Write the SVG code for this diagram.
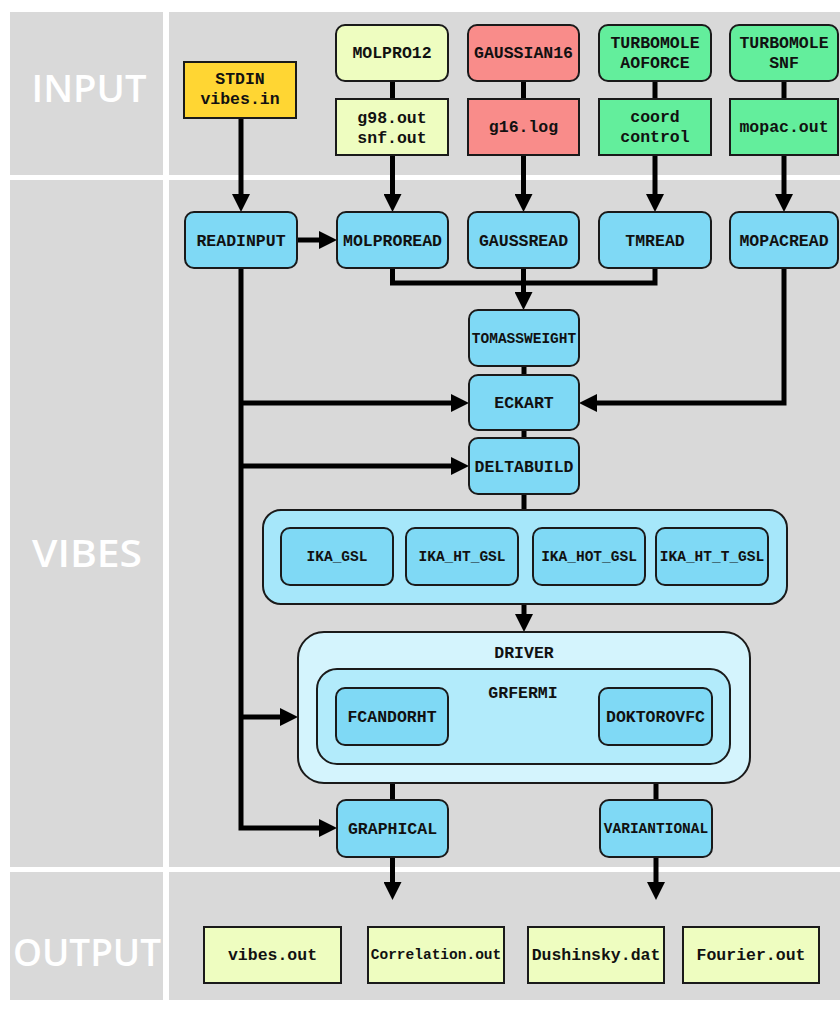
<svg xmlns="http://www.w3.org/2000/svg" width="840" height="1028" viewBox="0 0 840 1028">
<style>
.pan{fill:#d9d9d9}
.lab{fill:#ffffff;font-family:"Open Sans","Liberation Sans",sans-serif;font-weight:600;font-size:38px;text-anchor:middle}
.t{font-family:"Liberation Mono","Courier New",monospace;font-weight:bold;font-size:16.5px;fill:#111;text-anchor:middle}
.s{font-size:14.5px}
.bl{fill:#7fd9f5;stroke:#1a1a1a;stroke-width:2}
.yl{fill:#eefdc0;stroke:#1a1a1a;stroke-width:2}
.gd{fill:#ffd633;stroke:#1a1a1a;stroke-width:2}
.rd{fill:#f98c8a;stroke:#1a1a1a;stroke-width:2}
.gr{fill:#63ee9c;stroke:#1a1a1a;stroke-width:2}
.c1{fill:#a6e7fa;stroke:#1a1a1a;stroke-width:2}
.c2{fill:#d4f4fd;stroke:#1a1a1a;stroke-width:2}
.c3{fill:#b2ebfb;stroke:#1a1a1a;stroke-width:2}
.ln{fill:none;stroke:#000;stroke-width:5}
.ar{fill:none;stroke:#000;stroke-width:5;marker-end:url(#ah)}
</style>
<defs>
<marker id="ah" markerUnits="userSpaceOnUse" markerWidth="18" markerHeight="18" refX="8" refY="9" orient="auto">
<path d="M0,0 L18,9 L0,18 z" fill="#000"/>
</marker>
</defs>
<g id="panels">
<rect class="pan" x="10" y="12" width="153" height="163"/>
<rect class="pan" x="169" y="12" width="671" height="163"/>
<rect class="pan" x="10" y="180" width="153" height="687"/>
<rect class="pan" x="169" y="180" width="671" height="687"/>
<rect class="pan" x="10" y="872" width="153" height="128"/>
<rect class="pan" x="169" y="872" width="671" height="128"/>
<text class="lab" x="89" y="102" textLength="115" lengthAdjust="spacingAndGlyphs">INPUT</text>
<text class="lab" x="87" y="567" textLength="110" lengthAdjust="spacingAndGlyphs">VIBES</text>
<text class="lab" x="87" y="966" textLength="148" lengthAdjust="spacingAndGlyphs">OUTPUT</text>
</g>
<g id="connectors">
<path class="ar" d="M241,118 V202"/>
<path class="ar" d="M392.5,155 V202"/>
<path class="ar" d="M523.5,155 V202"/>
<path class="ar" d="M655,155 V202"/>
<path class="ar" d="M784,155 V202"/>
<path class="ln" d="M392.5,81 V99 M523.5,81 V99 M655,81 V99 M784,81 V99"/>
<path class="ar" d="M297,240 H327"/>
<path class="ln" d="M392.5,268 V283 H655 V268"/>
<path class="ar" d="M523.5,268 V300"/>
<path class="ln" d="M524,366 V375 M524,430 V438 M524,494 V510"/>
<path class="ar" d="M524,604 V622"/>
<path class="ar" d="M241,268 V828 H327"/>
<path class="ar" d="M241,403 H459"/>
<path class="ar" d="M241,466 H459"/>
<path class="ar" d="M241,717 H288"/>
<path class="ar" d="M784,268 V403 H589"/>
<path class="ln" d="M392.5,783 V800 M656,783 V800"/>
<path class="ar" d="M392.5,857 V890"/>
<path class="ar" d="M656,857 V890"/>
</g>
<g id="stdin"><rect class="gd" x="184" y="62" width="112" height="56"/><text class="t" x="240" y="84">STDIN</text><text class="t" x="240" y="104">vibes.in</text></g>
<g id="molpro12"><rect class="yl" x="336" y="25" width="112" height="56" rx="9"/><text class="t" x="392" y="58">MOLPRO12</text></g>
<g id="g98"><rect class="yl" x="336" y="99" width="112" height="56"/><text class="t" x="392" y="123">g98.out</text><text class="t" x="392" y="143">snf.out</text></g>
<g id="gaussian16"><rect class="rd" x="468" y="25" width="111" height="56" rx="9"/><text class="t" x="523.5" y="58">GAUSSIAN16</text></g>
<g id="g16log"><rect class="rd" x="468" y="99" width="111" height="56"/><text class="t" x="523.5" y="132">g16.log</text></g>
<g id="tmaoforce"><rect class="gr" x="599" y="25" width="112" height="56" rx="9"/><text class="t" x="655" y="48">TURBOMOLE</text><text class="t" x="655" y="68">AOFORCE</text></g>
<g id="coord"><rect class="gr" x="599" y="99" width="112" height="56"/><text class="t" x="655" y="122">coord</text><text class="t" x="655" y="142">control</text></g>
<g id="tmsnf"><rect class="gr" x="730" y="25" width="108" height="56" rx="9"/><text class="t" x="784" y="48">TURBOMOLE</text><text class="t" x="784" y="68">SNF</text></g>
<g id="mopacout"><rect class="gr" x="730" y="99" width="108" height="56"/><text class="t" x="784" y="132">mopac.out</text></g>
<g id="readinput"><rect class="bl" x="185" y="212" width="112" height="56" rx="9"/><text class="t" x="241" y="246">READINPUT</text></g>
<g id="molproread"><rect class="bl" x="337" y="212" width="111" height="56" rx="9"/><text class="t" x="392.5" y="246">MOLPROREAD</text></g>
<g id="gaussread"><rect class="bl" x="468" y="212" width="111" height="56" rx="9"/><text class="t" x="523.5" y="246">GAUSSREAD</text></g>
<g id="tmread"><rect class="bl" x="599" y="212" width="112" height="56" rx="9"/><text class="t" x="655" y="246">TMREAD</text></g>
<g id="mopacread"><rect class="bl" x="730" y="212" width="108" height="56" rx="9"/><text class="t" x="784" y="246">MOPACREAD</text></g>
<g id="tomassweight"><rect class="bl" x="469" y="310" width="110" height="56" rx="9"/><text class="t s" x="524" y="343">TOMASSWEIGHT</text></g>
<g id="eckart"><rect class="bl" x="469" y="375" width="110" height="55" rx="9"/><text class="t" x="524" y="408">ECKART</text></g>
<g id="deltabuild"><rect class="bl" x="469" y="438" width="110" height="56" rx="9"/><text class="t" x="524" y="472">DELTABUILD</text></g>
<g id="ika">
<rect class="c1" x="263" y="510" width="524" height="94" rx="18"/>
<g id="ika_gsl"><rect class="bl" x="281" y="528" width="112" height="57" rx="9"/><text class="t s" x="337" y="561">IKA_GSL</text></g>
<g id="ika_ht_gsl"><rect class="bl" x="406" y="528" width="112" height="57" rx="9"/><text class="t s" x="462" y="561">IKA_HT_GSL</text></g>
<g id="ika_hot_gsl"><rect class="bl" x="533" y="528" width="112" height="57" rx="9"/><text class="t s" x="589" y="561">IKA_HOT_GSL</text></g>
<g id="ika_ht_t_gsl"><rect class="bl" x="656" y="528" width="112" height="57" rx="9"/><text class="t s" x="712" y="561">IKA_HT_T_GSL</text></g>
</g>
<g id="driver">
<rect class="c2" x="298" y="632" width="452" height="151" rx="26"/>
<text class="t" x="524" y="658">DRIVER</text>
<g id="grfermi">
<rect class="c3" x="317" y="669" width="413" height="95" rx="20"/>
<text class="t" x="523" y="698">GRFERMI</text>
<g id="fcandorht"><rect class="bl" x="336" y="688" width="112" height="57" rx="9"/><text class="t" x="392" y="722">FCANDORHT</text></g>
<g id="doktorovfc"><rect class="bl" x="599" y="688" width="113" height="57" rx="9"/><text class="t" x="655.5" y="722">DOKTOROVFC</text></g>
</g>
</g>
<g id="graphical"><rect class="bl" x="337" y="800" width="111" height="57" rx="9"/><text class="t" x="392.5" y="834">GRAPHICAL</text></g>
<g id="variantional"><rect class="bl" x="600" y="800" width="112" height="57" rx="9"/><text class="t s" x="656" y="833">VARIANTIONAL</text></g>
<g id="vibesout"><rect class="yl" x="204" y="927" width="137" height="56"/><text class="t" x="272.5" y="960">vibes.out</text></g>
<g id="correlation"><rect class="yl" x="368" y="927" width="136" height="56"/><text class="t s" x="436" y="959">Correlation.out</text></g>
<g id="dushinsky"><rect class="yl" x="528" y="927" width="136" height="56"/><text class="t" x="596" y="960">Dushinsky.dat</text></g>
<g id="fourier"><rect class="yl" x="683" y="927" width="136" height="56"/><text class="t" x="751" y="960">Fourier.out</text></g>
</svg>
